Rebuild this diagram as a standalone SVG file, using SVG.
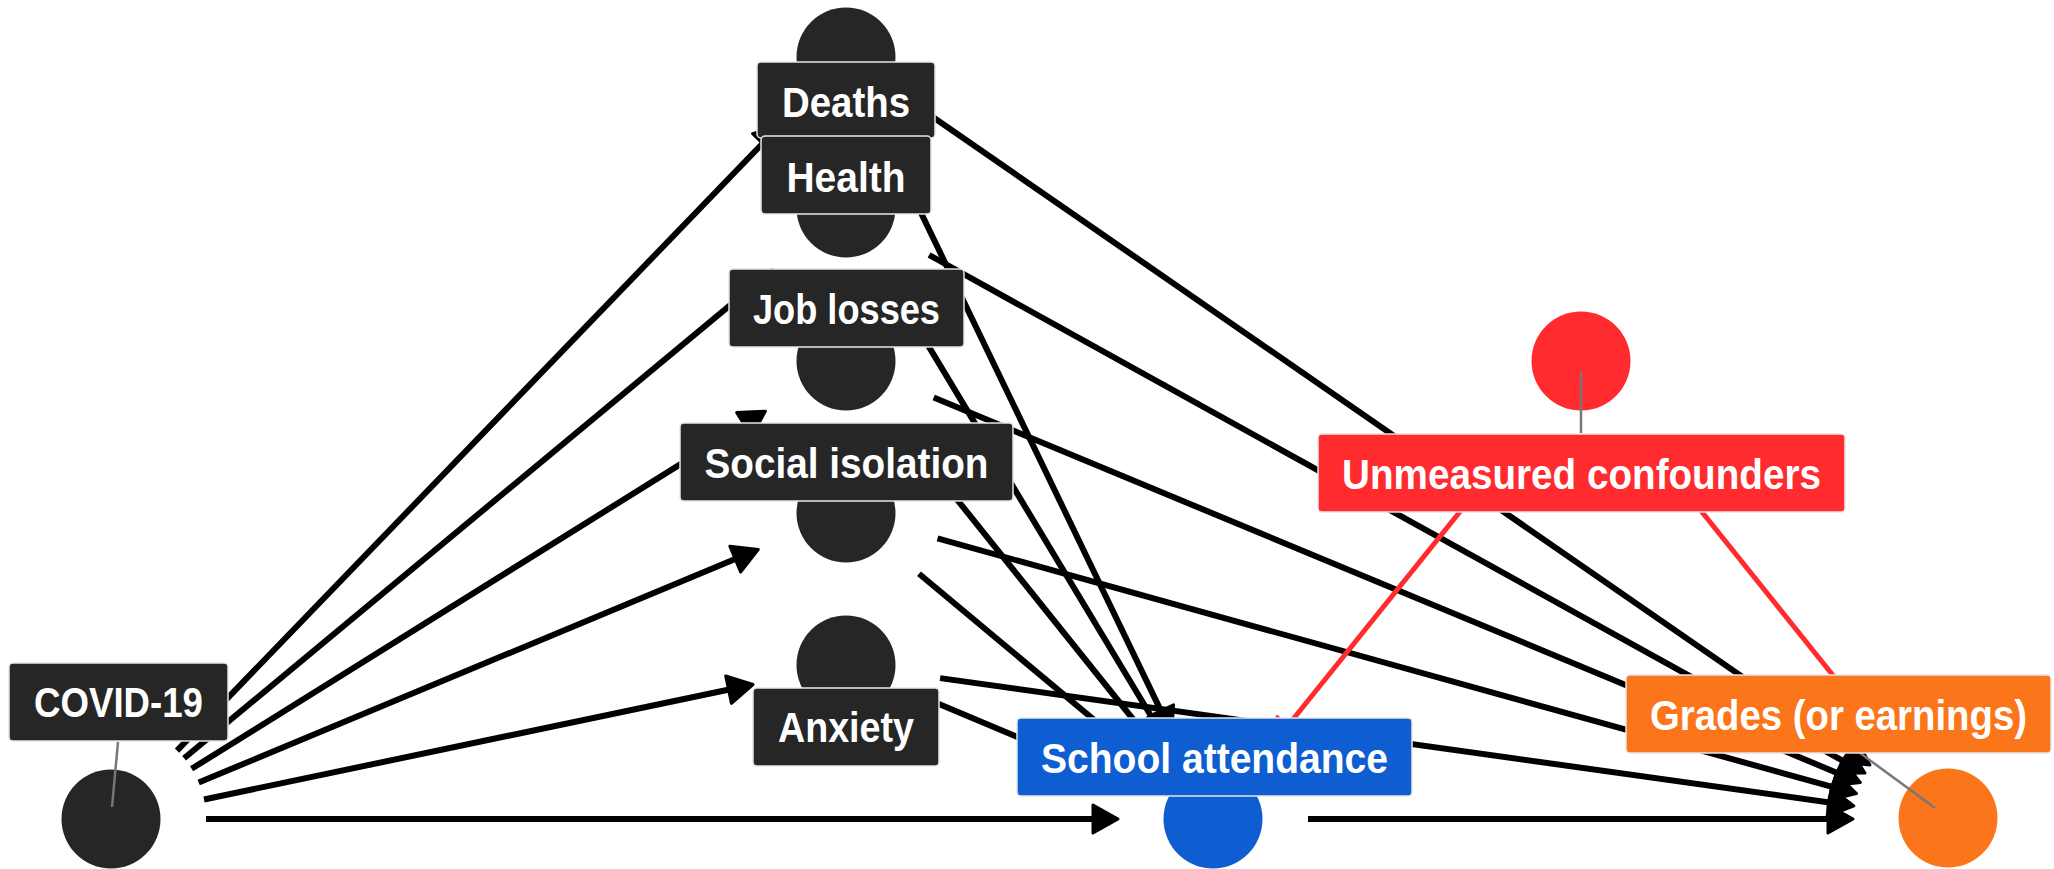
<svg xmlns="http://www.w3.org/2000/svg" width="2054" height="869" viewBox="0 0 2054 869">
<style>
.e{fill:none;stroke:#000;stroke-width:6;marker-end:url(#ah)}
.r{fill:none;stroke:#FF2B2F;stroke-width:5;marker-end:url(#ahr)}
.dk{fill:#262626}
.bl{fill:#0E5ED1}
.rd{fill:#FF2B2F}
.or{fill:#FB751B}
.lb{stroke:#E6E6E6;stroke-width:1.5}
.ld{stroke:#777;stroke-width:2.5;fill:none}
.t{fill:#fff;font-family:"Liberation Sans Narrow","Liberation Sans","DejaVu Sans Condensed",sans-serif;font-weight:bold;font-size:42px;text-anchor:middle}
</style>
<defs>
<marker id="ah" markerUnits="userSpaceOnUse" orient="auto" refX="0" refY="0" markerWidth="40" markerHeight="40" viewBox="-20 -20 40 40" overflow="visible">
<path d="M-13,-14 L12,0 L-13,14 Z" fill="#000" stroke="#000" stroke-width="3" stroke-linejoin="round"/>
</marker>
<marker id="ahr" markerUnits="userSpaceOnUse" orient="auto" refX="0" refY="0" markerWidth="40" markerHeight="40" viewBox="-20 -20 40 40" overflow="visible">
<path d="M-13,-14 L12,0 L-13,14 Z" fill="#FF2B2F" stroke="#FF2B2F" stroke-width="3" stroke-linejoin="round"/>
</marker>
</defs>
<rect width="2054" height="869" fill="#fff"/>
<g id="connectors">
<path class="e" d="M177,750.6 L771.7,134"/>
<path class="e" d="M184.1,758.3 L763.7,277.4"/>
<path class="e" d="M191.6,768.8 L755.2,417.6"/>
<path class="e" d="M198.7,782.5 L747.2,554.1"/>
<path class="e" d="M204,799.5 L741.3,687"/>
<path class="e" d="M206,819 L1106,819"/>
<path class="e" d="M887.2,142.6 L1166.6,722.6"/>
<path class="e" d="M895,290.4 L1157.8,727.3"/>
<path class="e" d="M905.4,435.1 L1146.1,735.5"/>
<path class="e" d="M919,573.8 L1130.8,750.5"/>
<path class="e" d="M933.6,701.8 L1114.3,777.6"/>
<path class="e" d="M924.1,111 L1860,758.2"/>
<path class="e" d="M929.1,255 L1854.4,767.2"/>
<path class="e" d="M933.7,397.5 L1849.2,777.9"/>
<path class="e" d="M937.5,538.4 L1844.9,790.4"/>
<path class="e" d="M940.1,678.1 L1842,804.2"/>
<path class="e" d="M1308,819 L1841,819"/>
<path class="r" d="M1521.5,435.1 L1280,735.5"/>
<path class="r" d="M1640.4,435.1 L1881.1,735.5"/>
</g>
<g id="node-covid">
<circle class="dk" cx="111" cy="819" r="49.5"/>
<line class="ld" x1="118" y1="742" x2="112" y2="807"/>
<rect class="dk lb" x="9" y="663" width="219" height="78" rx="4"/>
<text class="t" x="118.5" y="717" textLength="169" lengthAdjust="spacingAndGlyphs">COVID-19</text>
</g>
<g id="node-deaths">
<circle class="dk" cx="846" cy="57" r="49.5"/>
<rect class="dk lb" x="757" y="62" width="178" height="76" rx="4"/>
<text class="t" x="846" y="117" textLength="128" lengthAdjust="spacingAndGlyphs">Deaths</text>
</g>
<g id="node-health">
<circle class="dk" cx="846" cy="208" r="49.5"/>
<rect class="dk lb" x="761" y="136" width="170" height="78" rx="4"/>
<text class="t" x="846" y="192" textLength="119" lengthAdjust="spacingAndGlyphs">Health</text>
</g>
<g id="node-job">
<circle class="dk" cx="846" cy="361" r="49.5"/>
<rect class="dk lb" x="729" y="269" width="235" height="78" rx="4"/>
<text class="t" x="846.5" y="324" textLength="187" lengthAdjust="spacingAndGlyphs">Job losses</text>
</g>
<g id="node-social">
<circle class="dk" cx="846" cy="513" r="49.5"/>
<rect class="dk lb" x="680" y="423" width="333" height="78" rx="4"/>
<text class="t" x="846.5" y="478" textLength="284" lengthAdjust="spacingAndGlyphs">Social isolation</text>
</g>
<g id="node-anxiety">
<circle class="dk" cx="846" cy="665" r="49.5"/>
<rect class="dk lb" x="753" y="688" width="186" height="78" rx="4"/>
<text class="t" x="846" y="742" textLength="136" lengthAdjust="spacingAndGlyphs">Anxiety</text>
</g>
<g id="node-school">
<circle class="bl" cx="1213" cy="819" r="49.5"/>
<rect class="bl lb" x="1017" y="718" width="395" height="78" rx="4"/>
<text class="t" x="1214.5" y="773" textLength="347" lengthAdjust="spacingAndGlyphs">School attendance</text>
</g>
<g id="node-unmeasured">
<circle class="rd" cx="1581" cy="361" r="49.5"/>
<line class="ld" x1="1581" y1="372" x2="1581" y2="433"/>
<rect class="rd lb" x="1318" y="434" width="527" height="78" rx="4"/>
<text class="t" x="1581.5" y="489" textLength="479" lengthAdjust="spacingAndGlyphs">Unmeasured confounders</text>
</g>
<g id="node-grades">
<circle class="or" cx="1948" cy="818" r="49.5"/>
<line class="ld" x1="1860" y1="753" x2="1935" y2="808"/>
<rect class="or lb" x="1626" y="675" width="425" height="78" rx="4"/>
<text class="t" x="1838.5" y="730" textLength="377" lengthAdjust="spacingAndGlyphs">Grades (or earnings)</text>
</g>
</svg>
